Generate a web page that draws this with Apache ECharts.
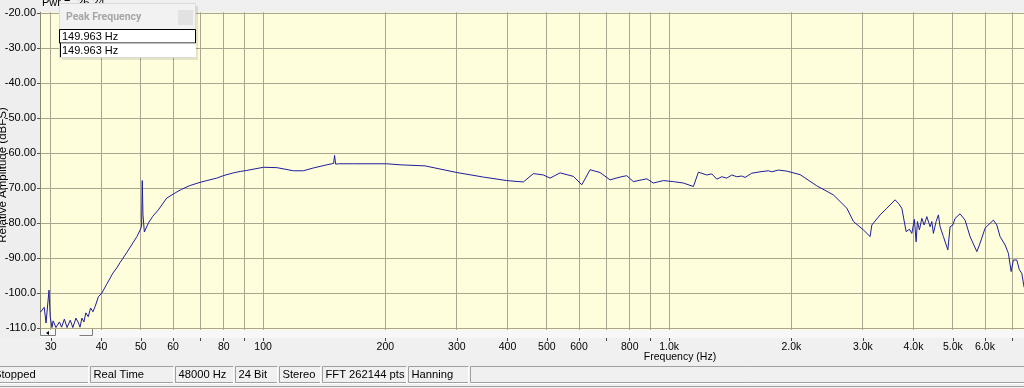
<!DOCTYPE html>
<html><head><meta charset="utf-8">
<script src="https://cdn.jsdelivr.net/npm/echarts@6/dist/echarts.min.js"></script>
<style>html,body{margin:0;padding:0;background:#F0F0F0;overflow:hidden}#c{width:1024px;height:388px;}</style>
</head><body><div id="c"></div>
<script>
// ---- data ----
const freqHz = [28.3,28.9,29.2,29.7,29.9,30.2,30.4,30.9,31.5,31.9,32.4,32.9,33.5,34.0,34.6,35.1,35.4,35.8,36.2,36.6,37.1,37.6,38.1,38.6,38.9,39.3,40.1,41.2,42.7,43.6,44.4,46.2,48.9,49.8,50.2,50.4,50.6,51.0,52.2,53.5,55.2,57.9,61.0,63.0,66.1,70.0,72.7,76.9,79.8,84.5,87.8,91.2,100.2,108.1,118.8,125.7,133.0,143.5,149.2,150.0,150.9,153.3,166.9,201.7,217.5,250.6,300,348.8,398.3,437.6,463.2,490.1,509.1,538.9,581.0,609.5,638.9,676.1,715.5,757.4,786.4,816.7,881.2,914.8,968.2,1024.7,1084.4,1147.8,1180.9,1238,1274,1311,1348,1387,1427,1468,1510,1539,1598,1675,1757,1791,1858,1950,2101.9,2310.7,2539.6,2740.6,2844.5,3010.6,3126.8,3157.2,3310,3438,3603,3671,3743,3836,3908,3961,4020,4059,4089,4136,4193,4248,4313,4395,4437,4477,4546,4606,4651,4738,4859,4922,4998,5063,5208,5358,5512,5728,5834,6002,6174,6292,6414,6535,6724,6851,6957,7047,7184,7291,7391,7488];
const levelDb = [-105.4,-104.0,-108.5,-99.1,-106.7,-109.8,-107.9,-109.8,-108.2,-109.7,-107.4,-109.8,-107.7,-109.8,-107.1,-108.5,-109.7,-107.1,-108.2,-105.6,-106.7,-104.2,-105.3,-103.7,-104.2,-101.0,-99.9,-97.4,-94.2,-92.8,-91.3,-88.3,-83.8,-81.9,-80.9,-67.8,-77.5,-82.5,-79.9,-78.0,-76.2,-72.8,-71.2,-70.3,-69.2,-68.3,-67.8,-67.1,-66.4,-65.6,-65.2,-64.9,-64.0,-64.1,-65.0,-65.0,-64.2,-63.3,-62.9,-60.6,-63.1,-63.0,-63.0,-63.0,-63.3,-63.6,-65.5,-66.8,-67.8,-68.2,-65.8,-66.2,-67.1,-65.6,-66.6,-69.0,-64.7,-65.5,-67.6,-66.8,-66.4,-68.1,-67.3,-68.5,-67.8,-68.1,-68.5,-69.5,-65.4,-66.2,-65.9,-67.4,-66.7,-67.1,-66.2,-66.7,-66.5,-66.9,-65.7,-65.3,-65.0,-65.3,-64.8,-65.1,-66.1,-69.3,-71.9,-75.7,-79.5,-81.9,-83.8,-80.5,-77.6,-75.7,-73.3,-74.3,-75.7,-82.4,-81.7,-82.9,-78.9,-85.3,-79.5,-81.9,-78.6,-80.5,-78.1,-81.0,-79.5,-82.9,-79.5,-77.6,-81.0,-83.8,-87.6,-81.0,-80.5,-78.6,-77.3,-79.1,-83.8,-88.1,-85.7,-81.4,-80.0,-79.1,-80.5,-83.8,-86.2,-88.6,-93.8,-90.5,-90.5,-93.3,-94.3,-98.3];
const xLabelValues = [30,40,50,60,80,100,200,300,400,500,600,800,1000,2000,3000,4000,5000,6000];
const xGridValues = [30,40,50,60,70,80,90,100,200,300,400,500,600,700,800,900,1000,2000,3000,4000,5000,6000,7000];
const yTickValues = [-110,-100,-90,-80,-70,-60,-50,-40,-30,-20];
const statusCells = ['Stopped','Real Time','48000 Hz','24 Bit','Stereo','FFT 262144 pts','Hanning',''];
const peakRows = ['149.963 Hz','149.963 Hz'];
const peakTitle = 'Peak Frequency';
const powerText = 'Pwr = -26.24';
const topCutLabel = '-10.0';
const xTitle = 'Frequency (Hz)';
const yTitle = 'Relative Amplitude (dBFS)';

const FONT = '"Liberation Sans", Arial, sans-serif';
const series = freqHz.map((f, i) => [f, levelDb[i]]);
const X_MIN = 28.22, X_MAX = 7484, Y_MIN = -110.5, Y_MAX = -19.7;
const GRID_COLOR = '#A9A58E';
const G = {left:40, top:12.25, width:984, height:317.75};

const cellX = [[-5,88],[90,173],[175,233],[235,277],[279,320],[322,406],[408,468],[470,1030]];
const graphics = [];
// plot background (drawn as the lowest layer)
graphics.push({type:'rect', shape:{x:G.left,y:G.top,width:G.width,height:G.height}, style:{fill:'#FFFEDC'}, z:-10, silent:true});
graphics.push({type:'rect', shape:{x:0,y:0,width:40,height:338}, style:{fill:'#EEEEEE'}, z:-10, silent:true});
graphics.push({type:'rect', shape:{x:40,y:330,width:984,height:8}, style:{fill:'#F7F7F7'}, silent:true});
graphics.push({type:'polyline', shape:{points:[[40.5,329],[40.5,335.5],[55.5,335.5],[55.5,329]]}, style:{stroke:'#7C7C7C',fill:null,lineWidth:1}, silent:true});
graphics.push({type:'polygon', shape:{points:[[46,333],[49,331],[49,335]]}, style:{fill:'#000'}, silent:true});
graphics.push({type:'polyline', shape:{points:[[79.5,335.5],[92.5,335.5],[92.5,329]]}, style:{stroke:'#7C7C7C',fill:null,lineWidth:1}, silent:true});
graphics.push({type:'line', shape:{x1:0,y1:386.5,x2:1024,y2:386.5}, style:{stroke:'#A0A0A0',lineWidth:1}, silent:true});
statusCells.forEach((t, i) => {
  const [a, b] = cellX[i];
  graphics.push({type:'rect', shape:{x:a+0.5,y:366.5,width:b-a,height:16}, style:{fill:'#F0F0F0',stroke:'#A0A0A0',lineWidth:1}, silent:true});
  graphics.push({type:'polyline', shape:{points:[[a+0.5,383.5],[b+0.5,383.5],[b+0.5,366.5]]}, style:{stroke:'#FFFFFF',fill:null,lineWidth:1}, silent:true});
  if (t) graphics.push({type:'text', x: i===0 ? -6 : a+3.5, y:375, style:{text:t, fill:'#000', font:'11.2px '+FONT, verticalAlign:'middle', align:'left'}, silent:true});
});
graphics.push({type:'text', x:680, y:357, style:{text:xTitle, fill:'#000', font:'10.5px '+FONT, align:'center', verticalAlign:'middle'}, silent:true});
graphics.push({type:'text', x:2.5, y:175, rotation:Math.PI/2, style:{text:yTitle, fill:'#000', font:'11.5px '+FONT, align:'center', verticalAlign:'middle'}, silent:true});
graphics.push({type:'text', x:2, y:-3, style:{text:topCutLabel, fill:'#000', font:'11px '+FONT, align:'left', verticalAlign:'middle'}, silent:true});
graphics.push({type:'text', x:42, y:3, style:{text:powerText, fill:'#000', font:'11px '+FONT, align:'left', verticalAlign:'middle'}, z:50, silent:true});
graphics.push({type:'rect', shape:{x:62,y:6,width:136,height:54}, style:{fill:'rgba(0,0,0,0.10)'}, z:99, silent:true});
graphics.push({type:'rect', shape:{x:59.5,y:3.5,width:136,height:54}, style:{fill:'#F2F2F2',stroke:'#DADADA',lineWidth:1}, z:100, silent:true});
graphics.push({type:'text', x:66, y:17, style:{text:peakTitle, fill:'#A6A6A6', font:'bold 10.5px Roboto, '+FONT, align:'left', verticalAlign:'middle'}, z:101, silent:true});
graphics.push({type:'rect', shape:{x:178,y:10,width:15,height:15}, style:{fill:'#E2E2E2'}, z:101, silent:true});
graphics.push({type:'rect', shape:{x:59.5,y:29.5,width:136,height:13.5}, style:{fill:'#FFFFFF',stroke:'#000',lineWidth:1}, z:101, silent:true});
graphics.push({type:'rect', shape:{x:60,y:43.5,width:136,height:13.5}, style:{fill:'#FFFFFF'}, z:101, silent:true});
graphics.push({type:'line', shape:{x1:60.5,y1:43,x2:60.5,y2:57}, style:{stroke:'#000',lineWidth:1}, z:102, silent:true});
peakRows.forEach((t, i) => {
  graphics.push({type:'text', x:62, y:36.5 + i*14, style:{text:t, fill:'#000', font:'11px '+FONT, align:'left', verticalAlign:'middle'}, z:103, silent:true});
});

const chart = echarts.init(document.getElementById('c'), null, {renderer:'canvas'});
chart.setOption({
  animation:false,
  backgroundColor:'#F0F0F0',
  grid:{left:G.left, right:0, top:G.top, bottom:58, show:false},
  xAxis:{
    type:'log', logBase:10, min:X_MIN, max:X_MAX,
    offset:8,
    axisLine:{show:false},
    axisTick:{show:true, length:3, customValues:xGridValues, lineStyle:{color:'#444'}},
    axisLabel:{customValues:xLabelValues, margin:4, color:'#000', fontSize:10.5, fontFamily:FONT,
      formatter:v => v >= 1000 ? (v/1000).toFixed(1)+'k' : String(v)},
    splitLine:{show:false},
    minorTick:{show:false}, minorSplitLine:{show:false}
  },
  yAxis:{
    type:'value', min:Y_MIN, max:Y_MAX,
    axisLine:{show:true, lineStyle:{color:'#8C8870'}},
    axisTick:{show:true, length:3, customValues:yTickValues, lineStyle:{color:'#555'}},
    axisLabel:{customValues:yTickValues, margin:4, color:'#000', fontSize:11, fontFamily:FONT,
      formatter:v => v > -100 ? v.toFixed(2) : v.toFixed(1)},
    splitLine:{show:true, lineStyle:{color:GRID_COLOR, width:1}}
  },
  series:[
    {type:'line', name:'spectrum', data:series, showSymbol:false, symbol:'none', sampling:'none',
      lineStyle:{color:'#1E1E9C', width:1}, clip:true, z:5}
  ],
  graphic:graphics
});

// vertical grid lines at the log-axis values, positioned through the axis conversion
const lo = Math.log10(X_MIN), hi = Math.log10(X_MAX);
xGridValues.forEach(v => {
  const expected = G.left + G.width * (Math.log10(v) - lo) / (hi - lo);
  let px = expected;
  const tries = [v, Math.log10(v)];
  for (const t of tries) {
    let c;
    try { c = chart.convertToPixel({xAxisIndex:0}, t); } catch (e) { c = NaN; }
    if (Array.isArray(c)) c = c[0];
    if (isFinite(c) && Math.abs(c - expected) < 2) { px = c; break; }
  }
  const x = Math.round(px - 0.5) + 0.5;
  graphics.push({type:'line', shape:{x1:x, y1:G.top, x2:x, y2:G.top + G.height},
    style:{stroke:GRID_COLOR, lineWidth:1}, z:-5, silent:true});
});
chart.setOption({graphic:graphics});
</script></body></html>
